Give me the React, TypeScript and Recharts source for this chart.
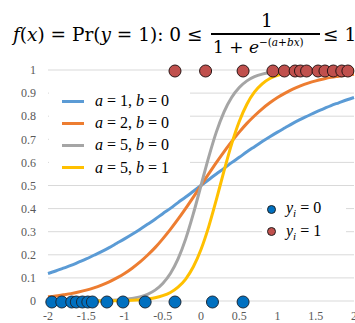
import { ComposedChart, Line, Scatter, XAxis, YAxis, CartesianGrid } from "recharts";

// curve samples, x from -2 to 2 in steps of 0.1
const xs = [
  -2, -1.9, -1.8, -1.7, -1.6, -1.5, -1.4, -1.3, -1.2, -1.1, -1, -0.9, -0.8, -0.7, -0.6, -0.5, -0.4, -0.3, -0.2, -0.1,
  0, 0.1, 0.2, 0.3, 0.4, 0.5, 0.6, 0.7, 0.8, 0.9, 1, 1.1, 1.2, 1.3, 1.4, 1.5, 1.6, 1.7, 1.8, 1.9, 2,
];
const curveA1B0 = [
  0.119, 0.13, 0.142, 0.154, 0.168, 0.182, 0.198, 0.214, 0.231, 0.25, 0.269, 0.289, 0.31, 0.332, 0.354, 0.378, 0.401, 0.426, 0.45, 0.475,
  0.5, 0.525, 0.55, 0.574, 0.599, 0.622, 0.646, 0.668, 0.69, 0.711, 0.731, 0.75, 0.769, 0.786, 0.802, 0.818, 0.832, 0.846, 0.858, 0.87, 0.881,
];
const curveA2B0 = [
  0.018, 0.022, 0.027, 0.032, 0.039, 0.047, 0.057, 0.069, 0.083, 0.1, 0.119, 0.142, 0.168, 0.198, 0.231, 0.269, 0.31, 0.354, 0.401, 0.45,
  0.5, 0.55, 0.599, 0.646, 0.69, 0.731, 0.769, 0.802, 0.832, 0.858, 0.881, 0.9, 0.917, 0.931, 0.943, 0.953, 0.961, 0.968, 0.973, 0.978, 0.982,
];
const curveA5B0 = [
  0, 0, 0, 0, 0, 0, 0.001, 0.0015, 0.002, 0.004, 0.007, 0.011, 0.018, 0.029, 0.047, 0.076, 0.119, 0.182, 0.269, 0.378,
  0.5, 0.622, 0.731, 0.818, 0.881, 0.924, 0.953, 0.971, 0.982, 0.989, 0.993, 0.996, 0.997, 0.998, 0.999, 0.999, 1, 1, 1, 1, 1,
];
const curveA5B1 = [
  0, 0, 0, 0, 0, 0, 0, 0, 0.001, 0.001, 0.002, 0.003, 0.005, 0.009, 0.014, 0.023, 0.037, 0.06, 0.095, 0.148,
  0.223, 0.321, 0.438, 0.562, 0.679, 0.777, 0.852, 0.905, 0.94, 0.963, 0.977, 0.986, 0.991, 0.995, 0.997, 0.998, 0.999, 0.999, 1, 1, 1,
];

// observations
const xsY0 = [-1.95, -1.82, -1.69, -1.63, -1.55, -1.48, -1.42, -1.23, -1.02, -0.73, -0.34, 0.15, 0.55];
const xsY1 = [-0.34, 0.06, 0.55, 0.94, 1.09, 1.23, 1.3, 1.38, 1.53, 1.62, 1.73, 1.84, 1.92];

const xTicks = [-2, -1.5, -1, -0.5, 0, 0.5, 1, 1.5, 2];
const yTicks = [0, 0.1, 0.2, 0.3, 0.4, 0.5, 0.6, 0.7, 0.8, 0.9, 1];

const SERIF = '"Liberation Serif", "DejaVu Serif", serif';
const MATH = '"DejaVu Serif", "Liberation Serif", serif';

const series = [
  { key: "c1", values: curveA1B0, a: 1, b: 0, color: "#5B9BD5" },
  { key: "c2", values: curveA2B0, a: 2, b: 0, color: "#ED7D31" },
  { key: "c3", values: curveA5B0, a: 5, b: 0, color: "#A5A5A5" },
  { key: "c4", values: curveA5B1, a: 5, b: 1, color: "#FFC000" },
];

const curveData = xs.map((x, i) => {
  const row: Record<string, number> = { x };
  series.forEach((s) => (row[s.key] = s.values[i]));
  return row;
});

const pointsY0 = xsY0.map((x) => ({ x, y: 0 }));
const pointsY1 = xsY1.map((x) => ({ x, y: 1 }));

const dot = (fill: string, stroke: string) => (props: any) =>
  <circle cx={props.cx} cy={props.cy + 1} r={6} fill={fill} stroke={stroke} strokeWidth={1} />;

function Title() {
  const base: React.CSSProperties = { position: "absolute", fontFamily: MATH, fontSize: 18.5, color: "#000", whiteSpace: "nowrap", lineHeight: 1 };
  return (
    <>
      <div style={{ ...base, left: 13, top: 26 }}>
        <i>f</i>(<i>x</i>) = Pr(<i>y</i> = 1): 0 ≤
      </div>
      <div style={{ ...base, left: 261, top: 12 }}>1</div>
      <div style={{ position: "absolute", left: 211, top: 33, width: 109, height: 1.5, background: "#000" }} />
      <div style={{ ...base, fontSize: 17, left: 213, top: 39 }}>
        1 + <i>e</i>
        <span style={{ fontSize: 10.5, position: "relative", top: -7 }}>
          −(<i>a</i>+<i>bx</i>)
        </span>
      </div>
      <div style={{ ...base, left: 323, top: 26 }}>≤ 1</div>
    </>
  );
}

function Legends() {
  const text: React.CSSProperties = { fontFamily: SERIF, fontSize: 16, color: "#000", whiteSpace: "nowrap" };
  return (
    <>
      <div style={{ position: "absolute", left: 49, top: 82, width: 141, height: 96, background: "#fff" }}>
        {series.map((s, i) => (
          <div key={s.key} style={{ position: "absolute", left: 0, top: 8 + i * 22.2, height: 22, display: "flex", alignItems: "center" }}>
            <div style={{ marginLeft: 13, width: 22, height: 3, background: s.color }} />
            <span style={{ ...text, marginLeft: 11 }}>
              <i>a</i> = {s.a}, <i>b</i> = {s.b}
            </span>
          </div>
        ))}
      </div>
      <div style={{ position: "absolute", left: 262, top: 197, width: 84, height: 46, background: "#fff" }}>
        {[
          { label: "0", fill: "#0070C0" },
          { label: "1", fill: "#C0504D" },
        ].map((d, i) => (
          <div key={d.label} style={{ position: "absolute", left: 0, top: 1 + i * 22.6, height: 22, display: "flex", alignItems: "center" }}>
            <div style={{ marginLeft: 5, width: 7, height: 7, borderRadius: "50%", background: d.fill, border: "0.5px solid #222" }} />
            <span style={{ ...text, marginLeft: 10 }}>
              <i>y</i>
              <sub style={{ fontSize: 11 }}>
                <i>i</i>
              </sub>{" "}
              = {d.label}
            </span>
          </div>
        ))}
      </div>
    </>
  );
}

export default function App() {
  return (
    <div style={{ position: "absolute", left: 0, top: 0, width: 355, height: 323, background: "#fff", overflow: "hidden" }}>
      <ComposedChart width={355} height={323} data={curveData} margin={{ top: 70, right: 1, bottom: 0, left: 8 }}>
        <CartesianGrid horizontal vertical={false} stroke="#D9D9D9" />
        <XAxis
          dataKey="x"
          type="number"
          domain={[-2, 2]}
          ticks={xTicks}
          axisLine={false}
          tickLine={false}
          tickSize={0}
          tickMargin={10}
          height={22}
          interval={0}
          tick={{ fill: "#595959", fontSize: 12, fontFamily: SERIF }}
        />
        <YAxis
          type="number"
          domain={[0, 1]}
          ticks={yTicks}
          axisLine={false}
          tickLine={false}
          tickSize={0}
          tickMargin={12}
          width={40}
          interval={0}
          tick={{ fill: "#595959", fontSize: 12, fontFamily: SERIF }}
        />
        {series.map((s) => (
          <Line key={s.key} dataKey={s.key} type="monotone" stroke={s.color} strokeWidth={3} dot={false} isAnimationActive={false} />
        ))}
        <Scatter data={pointsY0} dataKey="y" shape={dot("#0070C0", "#1a2a3a")} isAnimationActive={false} />
        <Scatter data={pointsY1} dataKey="y" shape={dot("#C0504D", "#2a1515")} isAnimationActive={false} />
      </ComposedChart>
      <Title />
      <Legends />
    </div>
  );
}
